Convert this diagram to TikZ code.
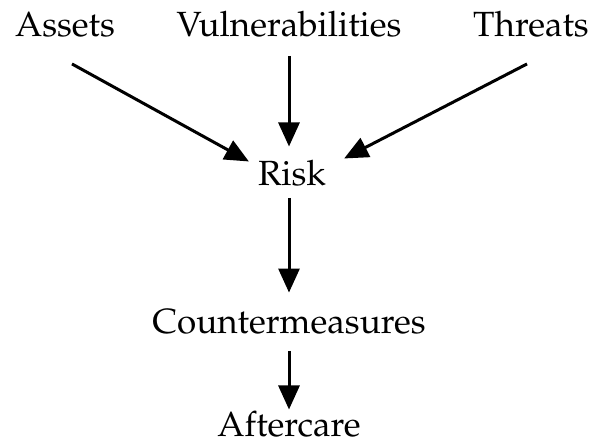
\documentclass[tikz,border=0pt]{standalone}
\usepackage[T1]{fontenc}
\renewcommand{\rmdefault}{ppl}
\usepackage{tikz}
\usetikzlibrary{arrows.meta, positioning, calc}

\tikzset{
  term/.style={inner sep=0pt, anchor=base, font=\fontsize{35}{40}\selectfont},
  arr/.style={line width=3pt, -{Triangle[length=24pt, width=21pt]}}
}

\begin{document}
\begin{tikzpicture}[x=1pt, y=-1pt]
  \useasboundingbox (0,0) rectangle (595,444);

  % Sources of risk
  \node[term] (assets) at (65,37) {Assets};
  \node[term] (vuln) at (289,37) {Vulnerabilities};
  \node[term] (threats) at (531,37) {Threats};

  % Chain downwards
  \node[term] (risk) at (292,185) {Risk};
  \node[term] (counter) at (289,333) {Countermeasures};
  \node[term] (after) at (289,436) {Aftercare};

  % Arrows
  \draw[arr] ([shift={(7,26)}]assets.south) -- ([shift={(-9,2)}]risk.north west);
  \draw[arr] ([shift={(0,18)}]vuln.south) -- ([shift={(-3,-13)}]risk.north);
  \draw[arr] ([shift={(-4,26)}]threats.south) -- ([shift={(18,-1)}]risk.north east);
  \draw[arr] ([shift={(-3,12)}]risk.south) -- ([shift={(0,-16)}]counter.north);
  \draw[arr] ([shift={(0,17)}]counter.south) -- ([shift={(0,-1)}]after.north);
\end{tikzpicture}
\end{document}
